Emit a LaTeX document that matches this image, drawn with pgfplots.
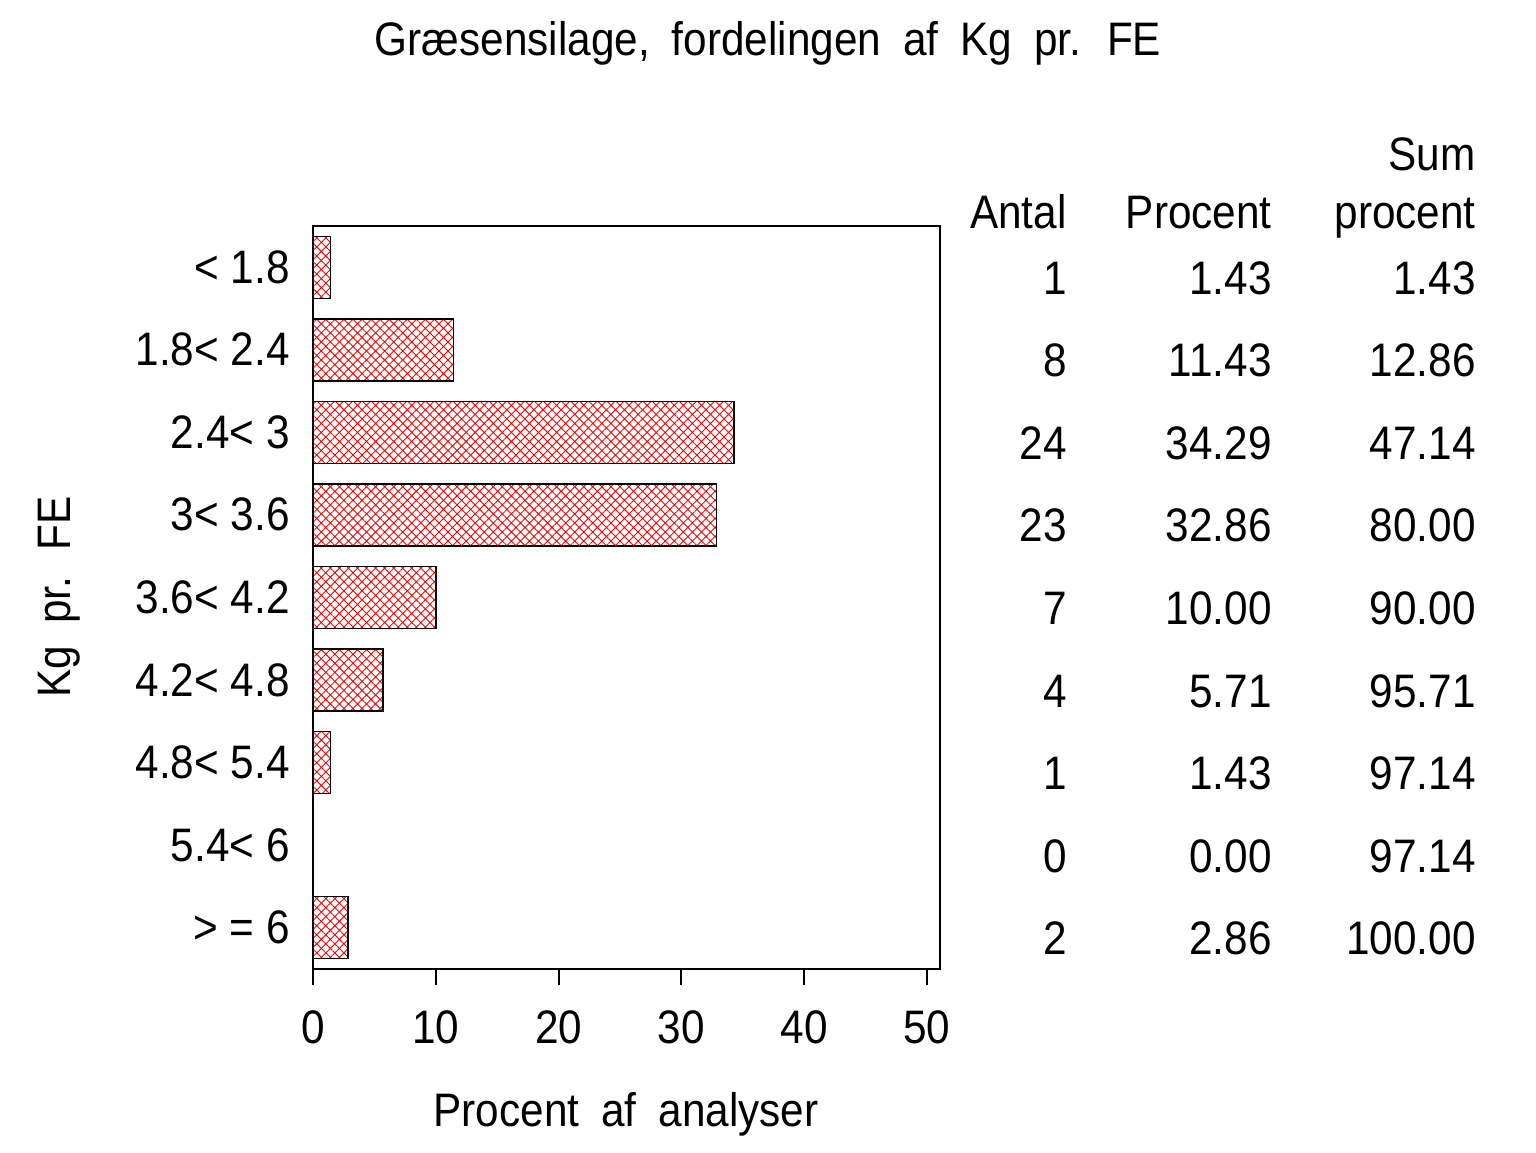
\documentclass[border=0pt]{standalone}
\usepackage{fontspec}
\setmainfont{Liberation Sans}[FakeStretch=0.9]
\usepackage{pgfplots}
\pgfplotsset{compat=1.18}
\usetikzlibrary{patterns.meta}

\pgfplotstableread{
y  pct
0  1.43
1  11.43
2  34.29
3  32.86
4  10.00
5  5.71
6  1.43
7  0.00
8  2.86
}\bardata

\begin{document}
\fontsize{23.5}{28}\selectfont
\begin{tikzpicture}
\begin{scope}[x=0.5pt,y=-0.5pt]
\path[use as bounding box] (0,0) rectangle (1536,1152);
\end{scope}
\begin{axis}[
  at={(156.5pt,-113pt)}, anchor=north west,
  scale only axis, width=313.5pt, height=371.5pt,
  xbar, bar width=31pt, bar shift=0pt,
  xmin=0, xmax=51.06, ymin=-0.5, ymax=8.5, y dir=reverse,
  ytick={0,...,8},
  yticklabels={{< 1.8},{1.8< 2.4},{2.4< 3},{3< 3.6},{3.6< 4.2},{4.2< 4.8},{4.8< 5.4},{5.4< 6},{> = 6}},
  xtick={0,10,...,50},
  xtick pos=left, tick align=outside, major tick length=8pt,
  ytick style={draw=none},
  axis line style={line width=0.9pt},
  xtick style={line width=1pt, black},
  /pgf/number format/assume math mode=true,
  yticklabel style={anchor=base east, inner sep=0pt, yshift=-8pt, xshift=-3.5pt},
  xticklabel style={anchor=base, inner sep=0pt, yshift=-29pt},
  clip=false,
]
\addplot[draw=black, line width=0.7pt, pattern={Hatch[angle=45,distance=3.2pt,line width=0.45pt]}, pattern color=red]
  table[x=pct, y=y] {\bardata};
\end{axis}
\begin{scope}[x=0.5pt,y=-0.5pt]
\node[anchor=base, inner sep=0pt] at (768,55) {\spaceskip=11pt Græsensilage, fordelingen af Kg pr. FE};
\node[anchor=base, inner sep=0pt] at (626,1126) {\spaceskip=11pt Procent af analyser};
\node[anchor=base, inner sep=0pt, rotate=90] at (70,597) {\spaceskip=11pt Kg pr. FE};
\node[anchor=base east, inner sep=0pt] at (1476,170) {Sum};
\node[anchor=base east, inner sep=0pt] at (1067,228) {Antal};
\node[anchor=base east, inner sep=0pt] at (1272,228) {Procent};
\node[anchor=base east, inner sep=0pt] at (1476,228) {procent};
\foreach \a/\p/\s [count=\i from 0] in {1/1.43/1.43, 8/11.43/12.86, 24/34.29/47.14, 23/32.86/80.00, 7/10.00/90.00, 4/5.71/95.71, 1/1.43/97.14, 0/0.00/97.14, 2/2.86/100.00}{
  \node[anchor=base east, inner sep=0pt] at (1067,{294+82.6*\i}) {\a};
  \node[anchor=base east, inner sep=0pt] at (1272,{294+82.6*\i}) {\p};
  \node[anchor=base east, inner sep=0pt] at (1476,{294+82.6*\i}) {\s};
}
\end{scope}
\end{tikzpicture}
\end{document}
